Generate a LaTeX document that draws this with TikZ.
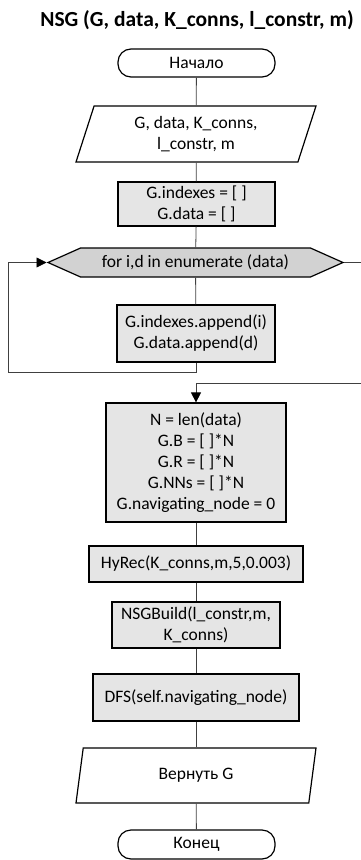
\documentclass[tikz,border=0pt]{standalone}
\usepackage{fontspec}
\setmainfont{Carlito}
\usetikzlibrary{shapes.geometric,shapes.symbols,arrows.meta}

\begin{document}
\begin{tikzpicture}[
  x = 1pt, y = -1pt,
  font = \fontsize{17.5}{21}\selectfont,
  terminal/.style={draw, line width=1.2pt, rectangle, rounded corners=13pt, minimum width=157pt, inner sep=0pt},
  io/.style={draw, line width=1.2pt, trapezium, trapezium left angle=63, trapezium right angle=117, trapezium stretches body, minimum width=240pt, inner sep=0pt, align=center},
  process/.style={draw, line width=1.2pt, fill=gray!20, rectangle, inner sep=0pt, align=center},
  loopbox/.style={draw, line width=1.2pt, fill=gray!35, signal, signal to=west and east, signal pointer angle=48, minimum width=295pt, minimum height=29pt, inner sep=0pt},
  line/.style={draw=black!75, line width=0.8pt},
  arrow/.style={line, -{Triangle[length=10pt, width=10pt, color=black]}}
]
    \useasboundingbox (0,0) rectangle (361,860);

    % Title
    \node (title) at (197, 20) [font=\fontsize{21.5}{26}\selectfont\bfseries] {NSG (G, data, K\_conns, l\_constr, m)};

    % Start
    \node (start) at (196.5, 63) [terminal, minimum height=28pt] {Начало};

    % Input
    \node (input) at (196, 134) [io, minimum height=56pt] {G, data, K\_conns,\\l\_constr, m};

    % Init
    \node (init) at (196.5, 204) [process, minimum width=157pt, minimum height=44pt] {G.indexes = [ ]\\G.data = [ ]};

    % Loop
    \node (loop) at (195.5, 262.5) [loopbox] {for i,d in enumerate (data)};

    % Loop body
    \node (body) at (196, 333.5) [process, minimum width=158pt, minimum height=57pt] {G.indexes.append(i)\\G.data.append(d)};

    % N
    \node (lenN) at (196, 462.5) [process, minimum width=180pt, minimum height=119pt] {N = len(data)\\G.B = [ ]*N\\G.R = [ ]*N\\G.NNs = [ ]*N\\G.navigating\_node = 0};

    % HyRec
    \node (hyrec) at (196, 564) [process, minimum width=214pt, minimum height=36pt] {HyRec(K\_conns,m,5,0.003)};

    % NSGBuild
    \node (build) at (196, 625) [process, minimum width=168pt, minimum height=46pt] {NSGBuild(l\_constr,m,\\K\_conns)};

    % DFS
    \node (dfs) at (196, 697.5) [process, minimum width=206pt, minimum height=47pt] {DFS(self.navigating\_node)};

    % Return
    \node (ret) at (196, 775.5) [io, minimum height=55pt] {Вернуть G};

    % End
    \node (stop) at (196.5, 844.5) [terminal, minimum height=29pt] {Конец};

    % Loop corners
    \coordinate (backA) at (196, 372);
    \coordinate (backB) at (8, 372);
    \coordinate (exitA) at (366, 383);

    % Arrows
    \draw[line] (start) -- (input);
    \draw[line] (input) -- (init);
    \draw[line] (init) -- (loop);
    \draw[line] (loop) -- (body);
    \draw[arrow] (body.south) -- (backA) -- (backB) |- (loop.west);
    \draw[arrow] (loop.east) -| (exitA) -| (lenN.north);
    \draw[line] (lenN) -- (hyrec);
    \draw[line] (hyrec) -- (build);
    \draw[line] (build) -- (dfs);
    \draw[line] (dfs) -- (ret);
    \draw[line] (ret) -- (stop);
\end{tikzpicture}
\end{document}
